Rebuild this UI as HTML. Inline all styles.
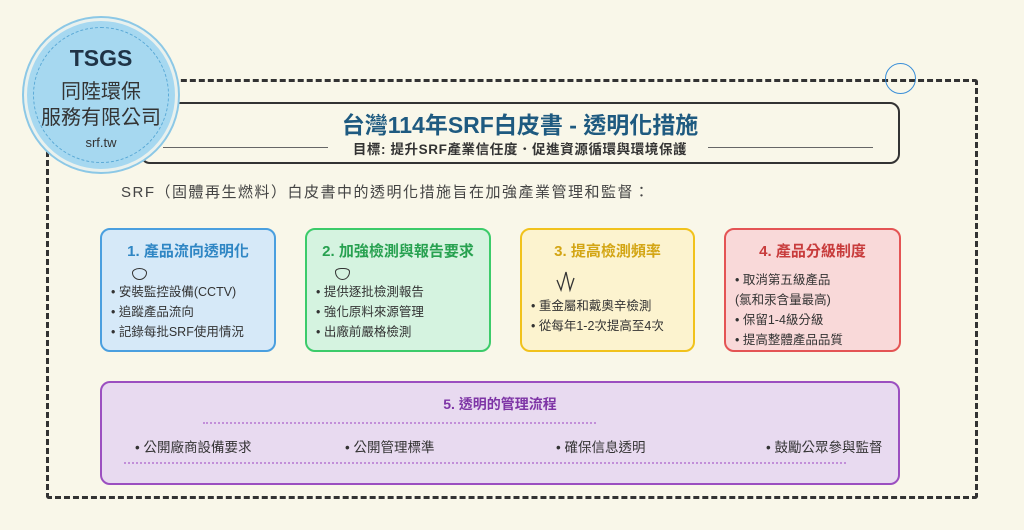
<!DOCTYPE html>
<html><head><meta charset="utf-8"><style>
*{margin:0;padding:0;box-sizing:border-box}
body{width:1024px;height:530px;background:#f9f7e9;position:relative;overflow:hidden;font-family:"Liberation Sans","Noto Sans CJK TC",sans-serif;color:#333}
.abs{position:absolute}
.outer{left:46px;top:79px;width:932px;height:420px;border:3px dashed #333;border-radius:3px}
.logo{left:24px;top:18px;width:154px;height:154px;border-radius:50%;background:#a6d8f0;border:3px solid #e9f1ee;box-shadow:0 0 0 2px #8cc8e6;text-align:center;z-index:5}
.logo .in{position:absolute;left:6px;top:6px;right:6px;bottom:6px;border:1.5px dashed #5aa9d6;border-radius:50%}
.title{left:140px;top:102px;width:760px;height:62px;border:2px solid #333;border-radius:10px;background:#f9f7e9}
.card{top:228px;height:124px;border:2px solid;border-radius:10px;font-size:12.5px}
.card h3{text-align:center;font-size:15px;margin-top:10px;font-weight:bold}
.card .li{position:absolute;left:9px;line-height:20px;color:#333}
</style></head><body>
<div class="abs outer"></div>
<div class="abs" style="left:885px;top:63px;width:31px;height:31px;border:1.5px solid #3b8fd8;border-radius:50%"></div>
<div class="abs title"></div>
<div class="abs logo"><div class="in"></div>
<div class="abs" style="left:-10px;right:-10px;top:24px;font-size:23px;font-weight:bold;color:#1f3346">TSGS</div>
<div class="abs" style="left:-10px;right:-10px;top:54px;font-size:20px;color:#333">同陸環保</div>
<div class="abs" style="left:-10px;right:-10px;top:80px;font-size:20px;color:#333">服務有限公司</div>
<div class="abs" style="left:-10px;right:-10px;top:114px;font-size:13px;color:#333">srf.tw</div>
</div>
<div class="abs" style="left:140px;width:760px;top:106px;text-align:center;font-size:23px;font-weight:bold;color:#1e5a80">台灣114年SRF白皮書 - 透明化措施</div>
<div class="abs" style="left:140px;width:760px;top:138px;text-align:center;font-size:13.5px;font-weight:bold;color:#333;letter-spacing:0.6px">目標: 提升SRF產業信任度．促進資源循環與環境保護</div>
<div class="abs" style="left:163px;top:147px;width:165px;border-top:1px solid #666"></div>
<div class="abs" style="left:708px;top:147px;width:165px;border-top:1px solid #666"></div>
<div class="abs" style="left:121px;top:181px;font-size:15px;color:#444;letter-spacing:1.5px">SRF（固體再生燃料）白皮書中的透明化措施旨在加強產業管理和監督：</div>

<div class="abs card" style="left:100px;width:176px;background:#d6e9f8;border-color:#4a9fdf"><h3 style="color:#2f86c4">1. 產品流向透明化</h3>
<div class="abs" style="left:30px;top:38px;width:15px;height:12px;border:1.3px solid #333;border-radius:50% 50% 50% 50%/40% 40% 60% 60%"></div>
<div class="li" style="top:52px">• 安裝監控設備(CCTV)<br>• 追蹤產品流向<br>• 記錄每批SRF使用情況</div></div>

<div class="abs card" style="left:305px;width:186px;background:#d5f3e0;border-color:#3ccb6a"><h3 style="color:#27a150">2. 加強檢測與報告要求</h3>
<div class="abs" style="left:28px;top:38px;width:15px;height:12px;border:1.3px solid #333;border-radius:40% 40% 50% 50%/30% 30% 70% 70%"></div>
<div class="li" style="top:52px">• 提供逐批檢測報告<br>• 強化原料來源管理<br>• 出廠前嚴格檢測</div></div>

<div class="abs card" style="left:520px;width:175px;background:#fcf3cf;border-color:#f1c21c"><h3 style="color:#d3a514">3. 提高檢測頻率</h3>
<svg class="abs" style="left:34px;top:40px" width="24" height="24"><polyline points="1,10 5,20 10,2 14,20 18,8" fill="none" stroke="#333" stroke-width="1.3"/></svg>
<div class="li" style="top:66px">• 重金屬和戴奧辛檢測<br>• 從每年1-2次提高至4次</div></div>

<div class="abs card" style="left:724px;width:177px;background:#f9d9d9;border-color:#e45454"><h3 style="color:#c83c3c">4. 產品分級制度</h3>
<div class="li" style="top:40px">• 取消第五級產品<br>(氯和汞含量最高)<br>• 保留1-4級分級<br>• 提高整體產品品質</div></div>

<div class="abs" style="left:100px;top:381px;width:800px;height:104px;background:#e8daf0;border:2px solid #9b4fc0;border-radius:10px"></div>
<div class="abs" style="left:100px;width:800px;top:394px;text-align:center;font-size:14px;font-weight:bold;color:#7e35a6">5. 透明的管理流程</div>
<div class="abs" style="left:203px;top:422px;width:393px;border-top:2px dotted #c28ed9"></div>
<div class="abs" style="left:124px;top:462px;width:722px;border-top:2px dotted #c28ed9"></div>
<div class="abs" style="left:135px;top:436px;font-size:13.5px;color:#333">• 公開廠商設備要求</div>
<div class="abs" style="left:345px;top:436px;font-size:13.5px;color:#333">• 公開管理標準</div>
<div class="abs" style="left:556px;top:436px;font-size:13.5px;color:#333">• 確保信息透明</div>
<div class="abs" style="left:766px;top:436px;font-size:13.5px;color:#333">• 鼓勵公眾參與監督</div>
</body></html>
